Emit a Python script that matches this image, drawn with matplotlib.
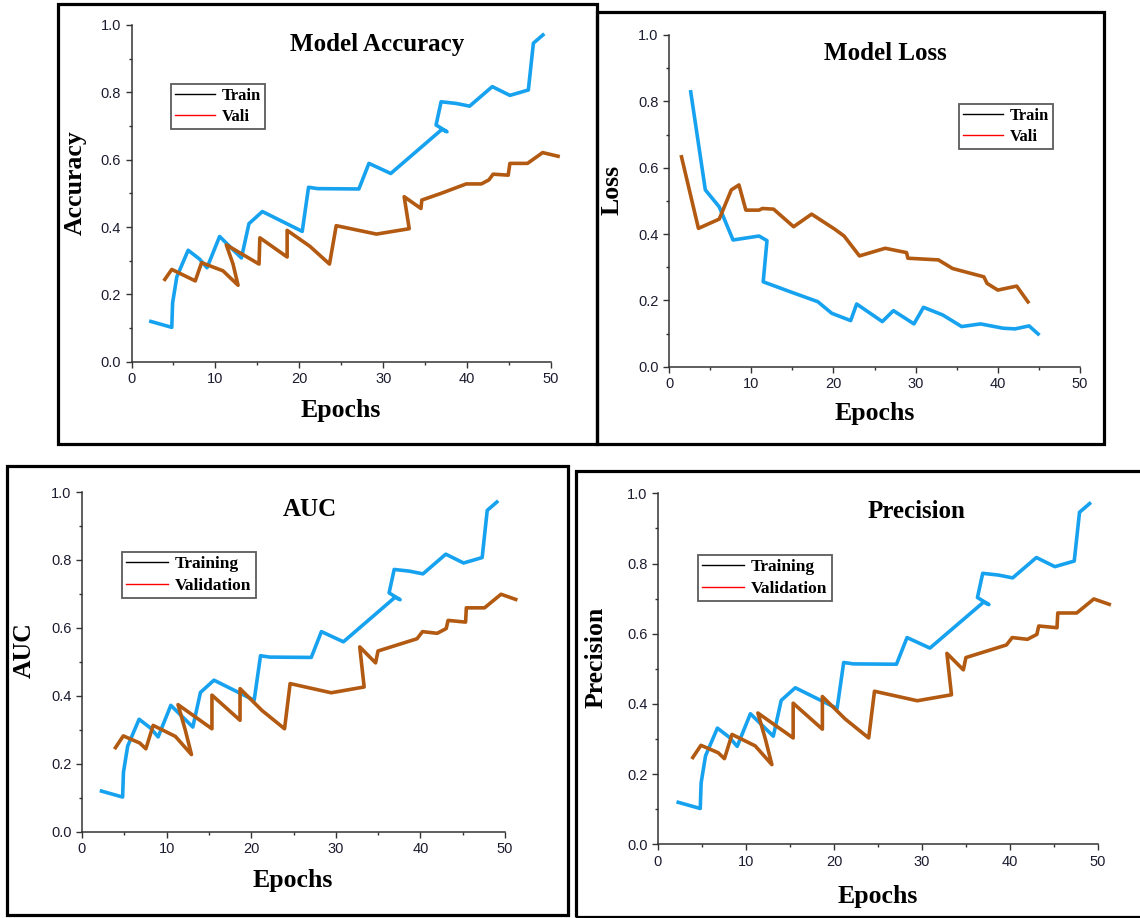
import matplotlib
matplotlib.use("Agg")
import matplotlib.pyplot as plt
from matplotlib.lines import Line2D
from matplotlib.patches import Rectangle

# ---------------- data ----------------
acc_train_x = [2.1, 4.8, 4.9, 5.4, 6.75, 8.1, 9.0, 10.5, 13.1, 14.0, 15.6, 20.35, 21.1, 22.2, 27.1, 28.3,
               30.9, 37.0, 37.6, 36.3, 36.9, 38.7, 40.3, 43.0, 45.1, 47.3, 47.9, 49.2]
acc_train_y = [0.121, 0.102, 0.175, 0.252, 0.331, 0.305, 0.279, 0.372, 0.308, 0.41, 0.446, 0.387, 0.518, 0.514,
               0.513, 0.589, 0.559, 0.69, 0.683, 0.703, 0.772, 0.767, 0.759, 0.817, 0.791, 0.807, 0.946, 0.974]
acc_val_x = [3.85, 4.8, 7.6, 8.35, 10.9, 12.7, 12.1, 11.3, 15.2, 15.3, 18.55, 18.55, 21.25, 23.6, 24.4, 29.2,
             33.1, 32.5, 34.5, 34.6, 36.9, 39.9, 41.7, 42.6, 43.1, 44.9, 45.1, 47.2, 49.0, 51.05]
acc_val_y = [0.240, 0.274, 0.240, 0.294, 0.270, 0.227, 0.29, 0.347, 0.290, 0.368, 0.311, 0.39, 0.343, 0.29,
             0.404, 0.379, 0.395, 0.490, 0.455, 0.480, 0.50, 0.528, 0.528, 0.54, 0.557, 0.554, 0.589, 0.589,
             0.621, 0.609]

loss_train_x = [2.61, 4.42, 6.11, 7.79, 10.95, 11.92, 11.46, 14.74, 18.1, 19.8, 22.1, 22.83, 25.95, 27.3,
                29.8, 30.96, 33.3, 35.6, 37.9, 40.65, 42.1, 43.8, 45.07]
loss_train_y = [0.834, 0.533, 0.482, 0.382, 0.394, 0.380, 0.256, 0.226, 0.196, 0.161, 0.139, 0.189, 0.136,
                0.169, 0.129, 0.179, 0.156, 0.121, 0.129, 0.116, 0.114, 0.123, 0.095]
loss_val_x = [1.47, 3.58, 6.11, 7.58, 8.51, 9.35, 10.95, 11.37, 12.72, 15.16, 17.35, 20.2, 21.3, 23.17, 26.3,
              28.9, 29.06, 32.77, 34.5, 38.3, 38.7, 40.0, 42.3, 43.8]
loss_val_y = [0.638, 0.417, 0.445, 0.533, 0.548, 0.472, 0.472, 0.477, 0.475, 0.422, 0.46, 0.414, 0.394, 0.334,
              0.357, 0.344, 0.327, 0.322, 0.296, 0.271, 0.251, 0.231, 0.243, 0.191]

auc_train_x = [2.1, 4.8, 4.9, 5.4, 6.75, 8.1, 9.0, 10.5, 13.1, 14.0, 15.6, 20.35, 21.1, 22.2, 27.1, 28.3,
               30.9, 37.0, 37.6, 36.3, 36.9, 38.7, 40.3, 43.0, 45.1, 47.3, 47.9, 49.2]
auc_train_y = [0.121, 0.102, 0.175, 0.252, 0.331, 0.305, 0.279, 0.372, 0.308, 0.41, 0.446, 0.387, 0.518, 0.514,
               0.513, 0.589, 0.559, 0.69, 0.683, 0.703, 0.772, 0.767, 0.759, 0.817, 0.791, 0.807, 0.946, 0.974]
auc_val_x = [3.84, 4.88, 6.83, 7.55, 8.41, 11.04, 12.94, 12.2, 11.35, 15.36, 15.36, 18.68, 18.68, 21.27,
             23.94, 24.6, 29.46, 33.35, 32.83, 34.7, 34.99, 39.6, 40.25, 41.98, 43.05, 43.27, 45.34, 45.43,
             47.58, 49.53, 51.47]
auc_val_y = [0.243, 0.282, 0.261, 0.244, 0.313, 0.2805, 0.227, 0.30, 0.374, 0.303, 0.402, 0.328, 0.421,
             0.357, 0.303, 0.436, 0.409, 0.426, 0.544, 0.497, 0.532, 0.568, 0.589, 0.584, 0.598, 0.622, 0.617,
             0.659, 0.659, 0.699, 0.682]

prec_train_x = list(auc_train_x)
prec_train_y = list(auc_train_y)
prec_val_x = list(auc_val_x)
prec_val_y = list(auc_val_y)

xticks = [0, 10, 20, 30, 40, 50]
yticks = [0.0, 0.2, 0.4, 0.6, 0.8, 1.0]
ytick_labels = ["0.0", "0.2", "0.4", "0.6", "0.8", "1.0"]

# ---------------- style ----------------
W, H = 1140, 918
BLUE = "#17A2F0"
BROWN = "#B25A12"
SERIF = "Liberation Serif"
SANS = "Liberation Sans"
TICKC = "#1c1c30"

fig = plt.figure(figsize=(W / 100, H / 100), dpi=100)
fig.patch.set_facecolor("white")


def fx(x):
    return x / W


def fy(y):
    return 1 - y / H


def border(x0, y0, x1, y1):
    r = Rectangle((fx(x0), fy(y1)), fx(x1) - fx(x0), fy(y0) - fy(y1), transform=fig.transFigure,
                  fill=False, edgecolor="black", linewidth=2.3, zorder=0)
    fig.patches.append(r)


def panel(ax_px, trx, try_, vx, vy, title, title_px, ylabel, ylabel_px, xlabel_px, labels, leg_px, leg_fs):
    x0, x1, ytop, ybot = ax_px
    ax = fig.add_axes([fx(x0), fy(ybot), fx(x1) - fx(x0), fy(ytop) - fy(ybot)])
    ax.patch.set_alpha(0)
    ax.plot(trx, try_, color=BLUE, lw=2.6, clip_on=False, solid_joinstyle="round", solid_capstyle="butt")
    ax.plot(vx, vy, color=BROWN, lw=2.6, clip_on=False, solid_joinstyle="round", solid_capstyle="butt")
    ax.set_xlim(0, 50)
    ax.set_ylim(0, 1)
    for s in ["top", "right"]:
        ax.spines[s].set_visible(False)
    for s in ["left", "bottom"]:
        ax.spines[s].set_linewidth(1.1)
        ax.spines[s].set_color("#333333")
    ax.set_xticks(xticks)
    ax.set_xticklabels([str(t) for t in xticks])
    ax.set_yticks(yticks)
    ax.set_yticklabels(ytick_labels)
    ax.set_xticks([5, 15, 25, 35, 45], minor=True)
    ax.set_yticks([0.1, 0.3, 0.5, 0.7, 0.9], minor=True)
    ax.tick_params(which="major", direction="out", length=4.5, width=1.0, color="#333333",
                   labelsize=10.5, labelcolor=TICKC, pad=3)
    ax.tick_params(which="minor", direction="out", length=2.5, width=1.0, color="#333333")
    for lab in ax.get_xticklabels() + ax.get_yticklabels():
        lab.set_fontfamily(SANS)

    fig.text(fx(title_px[0]), fy(title_px[1]), title, family=SERIF, weight="bold", fontsize=18,
             ha="center", va="center")
    fig.text(fx(ylabel_px[0]), fy(ylabel_px[1]), ylabel, family=SERIF, weight="bold", fontsize=18.5,
             ha="center", va="center", rotation=90)
    fig.text(fx(xlabel_px[0]), fy(xlabel_px[1]), "Epochs", family=SERIF, weight="bold", fontsize=18.5,
             ha="center", va="center")

    handles = [Line2D([], [], color="black", lw=1.0), Line2D([], [], color="red", lw=1.0)]
    leg = fig.legend(handles, labels, loc="upper left", bbox_to_anchor=(fx(leg_px[0]), fy(leg_px[1])),
                     bbox_transform=fig.transFigure, frameon=True, fancybox=False, borderaxespad=0,
                     prop={"family": SERIF, "weight": "bold", "size": leg_fs},
                     handlelength=2.4, handletextpad=0.4, labelspacing=0.3, borderpad=0.25)
    leg.get_frame().set_edgecolor("#333333")
    leg.get_frame().set_linewidth(1.3)
    return ax


# panel borders
border(57.5, 4, 597, 444)
border(597, 12, 1104, 443.5)
border(7, 466.5, 567.5, 915)
border(576, 470.7, 1150, 917)

panel((131.5, 551, 25, 361.7), acc_train_x, acc_train_y, acc_val_x, acc_val_y,
      "Model Accuracy", (377, 44), "Accuracy", (75, 183), (341, 410), ["Train", "Vali"], (171, 84), 12)
panel((669, 1080, 35, 366.7), loss_train_x, loss_train_y, loss_val_x, loss_val_y,
      "Model Loss", (885, 53), "Loss", (612, 190), (875, 414), ["Train", "Vali"], (959, 104), 12)
panel((82, 505, 492, 831.7), auc_train_x, auc_train_y, auc_val_x, auc_val_y,
      "AUC", (310, 510), "AUC", (24, 650), (293, 880), ["Training", "Validation"], (122, 552), 12.5)
panel((658, 1098, 493.3, 844.3), prec_train_x, prec_train_y, prec_val_x, prec_val_y,
      "Precision", (917, 512), "Precision", (596, 657), (878, 897), ["Training", "Validation"], (698, 555), 12.5)

fig.savefig("out.png", dpi=100, facecolor="white")
